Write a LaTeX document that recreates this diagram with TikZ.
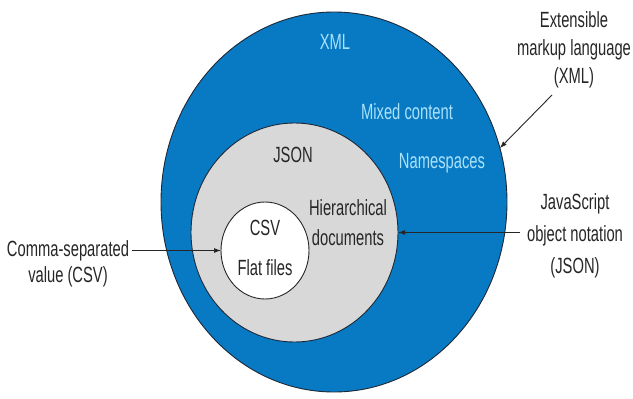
\documentclass[tikz,border=0pt]{standalone}
\usepackage{fontspec}
\setmainfont[FakeStretch=0.67]{Liberation Sans}
\usetikzlibrary{shapes.geometric,arrows.meta}
\definecolor{ringblue}{RGB}{8,122,196}
\definecolor{ringgray}{RGB}{216,216,216}
\definecolor{lighttext}{RGB}{170,226,250}
\definecolor{darktext}{RGB}{38,38,38}
\definecolor{edgecol}{RGB}{30,40,55}
\tikzset{
  ring/.style={ellipse, inner sep=0pt, outer sep=0pt, draw=edgecol, line width=0.9pt},
  lbl/.style={inner sep=0pt, align=center, text=darktext, font=\fontsize{22}{30}\selectfont},
  inlbl/.style={lbl, text=lighttext},
  pointer/.style={draw=darktext, line width=0.9pt, -{Latex[length=7pt,width=5pt]}}
}
\begin{document}
\begin{tikzpicture}[x=1pt,y=-1pt]
\useasboundingbox[fill=white] (0,0) rectangle (633,399);
% rings
\node[ring, fill=ringblue, minimum width=346pt, minimum height=380pt] (xmlE) at (334,202) {};
\node[ring, fill=ringgray, minimum width=207pt, minimum height=219pt] (jsonE) at (294.5,232.5) {};
\node[ring, fill=white, draw=darktext, minimum width=88pt, minimum height=97pt] (csvE) at (265,250.5) {};
% labels inside
\node[inlbl] (xmlT) at (335,42) {XML};
\node[inlbl] (mixT) at (407,112) {Mixed content};
\node[inlbl] (nsT) at (442,163) {Namespaces};
\node[lbl] (jsonT) at (293,155) {JSON};
\node[lbl] (hierT) at (348,223) {Hierarchical\\documents};
\node[lbl] (csvT) at (265,228) {CSV};
\node[lbl] (flatT) at (265,268) {Flat files};
% outside labels
\node[lbl, font=\fontsize{22}{28}\selectfont] (xmlL) at (574,50) {Extensible\\markup language\\(XML)};
\node[lbl, font=\fontsize{22}{32}\selectfont] (jsonL) at (575,236) {JavaScript\\object notation\\(JSON)};
\node[lbl, font=\fontsize{22}{26}\selectfont] (csvL) at (68,264) {Comma-separated\\value (CSV)};
% connector free ends
\coordinate (xmlS) at (552,95);
\coordinate (jsonS) at (520,232.5);
\coordinate (csvS) at (132,250.5);
\draw[pointer] (xmlS) -- (xmlE.18);
\draw[pointer] (jsonS) -- (jsonE.east);
\draw[pointer] (csvS) -- (csvE.west);
\end{tikzpicture}
\end{document}
